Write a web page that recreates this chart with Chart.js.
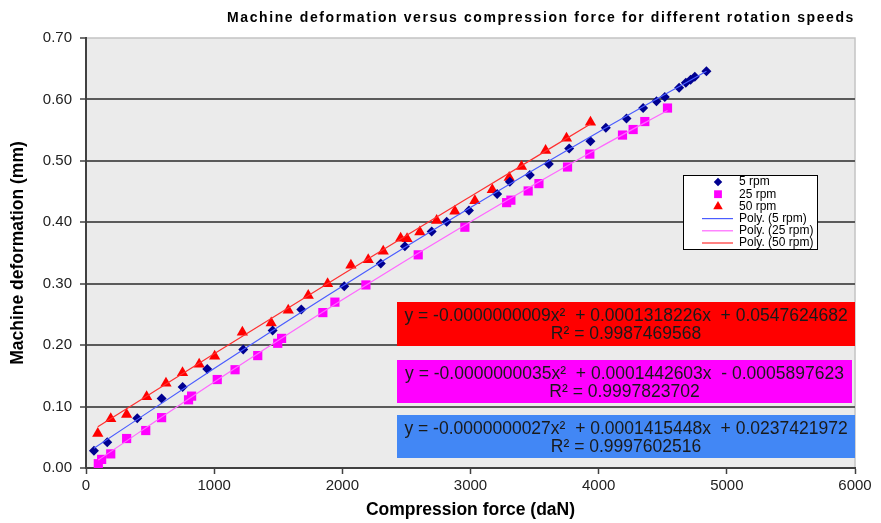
<!DOCTYPE html>
<html>
<head>
<meta charset="utf-8">
<script src="https://cdn.jsdelivr.net/npm/chart.js@4.4.1/dist/chart.umd.min.js"></script>
<style>
    html, body { margin: 0; padding: 0; background: #ffffff; }
    #wrap { position: relative; width: 881px; height: 523px; }
    #title {
        position: absolute; right: 26px; top: 9px;
        font: bold 14px "Liberation Sans", Arial, sans-serif;
        letter-spacing: 1.6px; color: #000; white-space: nowrap;
    }
</style>
</head>
<body>
<div id="wrap">
    <canvas id="chart" width="881" height="523"></canvas>
    <div id="title">Machine deformation versus compression force for different rotation speeds</div>
</div>
<script>
// Measured points (force in daN, deformation in mm)
const force5 = [62, 166, 400, 590, 754, 946, 1227, 1456, 1680, 2015, 2300, 2488, 2697, 2814, 2988, 3208, 3307, 3463, 3611, 3770, 3936, 4056, 4217, 4347, 4451, 4516, 4628, 4680, 4717, 4750, 4841];
const deform5 = [0.028, 0.042, 0.081, 0.113, 0.132, 0.161, 0.193, 0.224, 0.258, 0.296, 0.333, 0.361, 0.385, 0.401, 0.419, 0.446, 0.466, 0.477, 0.495, 0.520, 0.532, 0.554, 0.569, 0.586, 0.597, 0.604, 0.619, 0.627, 0.632, 0.637, 0.646];

const force25 = [96, 122, 193, 317, 466, 590, 800, 824, 1024, 1163, 1340, 1496, 1526, 1848, 1942, 2184, 2592, 2956, 3282, 3315, 3450, 3534, 3757, 3931, 4186, 4269, 4360, 4537];
const deform25 = [0.007, 0.014, 0.023, 0.048, 0.061, 0.082, 0.111, 0.117, 0.144, 0.160, 0.183, 0.203, 0.211, 0.253, 0.270, 0.298, 0.347, 0.392, 0.432, 0.436, 0.451, 0.463, 0.490, 0.511, 0.542, 0.551, 0.564, 0.586];

const force50 = [92, 193, 317, 473, 624, 753, 883, 1004, 1220, 1445, 1578, 1734, 1885, 2067, 2202, 2319, 2455, 2505, 2605, 2736, 2878, 3034, 3170, 3302, 3398, 3586, 3749, 3936];
const deform50 = [0.056, 0.080, 0.087, 0.116, 0.138, 0.155, 0.169, 0.182, 0.221, 0.236, 0.257, 0.281, 0.300, 0.330, 0.339, 0.353, 0.374, 0.373, 0.384, 0.403, 0.418, 0.435, 0.453, 0.473, 0.491, 0.517, 0.537, 0.563];

// Trendline points
const trendForce5 = [62, 1000, 2000, 3000, 4000, 4841];
const trendDeform5 = [0.032, 0.162, 0.296, 0.424, 0.547, 0.646];
const trendForce25 = [96, 1000, 2000, 3000, 4000, 4537];
const trendDeform25 = [0.013, 0.140, 0.274, 0.401, 0.521, 0.582];
const trendForce50 = [92, 1000, 2000, 3000, 3936];
const trendDeform50 = [0.067, 0.186, 0.315, 0.442, 0.560];

// Trendline equation labels
const eqRed = ['y = -0.0000000009x²  + 0.0001318226x  + 0.0547624682', 'R² = 0.9987469568'];
const eqMagenta = ['y = -0.0000000035x²  + 0.0001442603x  - 0.0005897623', 'R² = 0.9997823702'];
const eqBlue = ['y = -0.0000000027x²  + 0.0001415448x  + 0.0237421972', 'R² = 0.9997602516'];

const toPoints = (xs, ys) => xs.map((x, i) => ({ x: x, y: ys[i] }));

const FONT = '"Liberation Sans", Arial, sans-serif';

// grey plot area with light frame
const plotBackground = {
    id: 'plotBackground',
    beforeDraw(chart) {
        const { ctx, chartArea: a } = chart;
        ctx.save();
        ctx.fillStyle = '#ebebeb';
        ctx.fillRect(a.left, a.top, a.right - a.left, a.bottom - a.top);
        ctx.strokeStyle = '#c4c4c4';
        ctx.lineWidth = 1.5;
        ctx.strokeRect(a.left, a.top, a.right - a.left, a.bottom - a.top);
        ctx.restore();
    }
};

// coloured equation boxes
const equationBoxes = {
    id: 'equationBoxes',
    afterDatasetsDraw(chart) {
        const ctx = chart.ctx;
        const boxes = [
            { lines: eqRed, color: '#ff0000', x: 397, y: 302, w: 458, h: 44 },
            { lines: eqMagenta, color: '#ff00ff', x: 397, y: 360, w: 455, h: 43 },
            { lines: eqBlue, color: '#4287f5', x: 397, y: 415, w: 458, h: 43 }
        ];
        ctx.save();
        ctx.font = '17.5px ' + FONT;
        ctx.textAlign = 'center';
        ctx.textBaseline = 'middle';
        boxes.forEach(b => {
            ctx.fillStyle = b.color;
            ctx.fillRect(b.x, b.y, b.w, b.h);
            ctx.fillStyle = '#1a1a1a';
            ctx.fillText(b.lines[0], b.x + b.w / 2, b.y + 14);
            ctx.fillText(b.lines[1], b.x + b.w / 2, b.y + 32);
        });
        ctx.restore();
    }
};

// small boxed legend inside the plot
const legendBox = {
    id: 'legendBox',
    afterDatasetsDraw(chart) {
        const ctx = chart.ctx;
        const x = 683, y = 175, w = 134, h = 74;
        ctx.save();
        ctx.fillStyle = '#ffffff';
        ctx.fillRect(x, y, w, h);
        ctx.strokeStyle = '#000000';
        ctx.lineWidth = 1;
        ctx.strokeRect(x + 0.5, y + 0.5, w, h);
        ctx.font = '12px ' + FONT;
        ctx.textBaseline = 'middle';
        chart.data.datasets.forEach((ds, i) => {
            const cy = y + 7 + i * 12.2;
            if (ds.showLine) {
                ctx.strokeStyle = ds.borderColor;
                ctx.lineWidth = 1.2;
                ctx.beginPath();
                ctx.moveTo(702, cy);
                ctx.lineTo(733, cy);
                ctx.stroke();
            } else {
                ctx.fillStyle = ds.backgroundColor;
                Chart.helpers.drawPoint(ctx, {
                    pointStyle: ds.pointStyle,
                    radius: ds.pointRadius * 0.85,
                    borderWidth: 0,
                    rotation: 0
                }, 718, cy);
            }
            ctx.fillStyle = '#000000';
            ctx.fillText(ds.label, 739, cy);
        });
        ctx.restore();
    }
};

new Chart(document.getElementById('chart'), {
    type: 'scatter',
    data: {
        datasets: [
            {
                label: '5 rpm',
                data: toPoints(force5, deform5),
                pointStyle: 'rectRot',
                pointRadius: 5,
                backgroundColor: '#000090',
                borderColor: '#000090',
                borderWidth: 0,
                showLine: false,
                order: 1
            },
            {
                label: '25 rpm',
                data: toPoints(force25, deform25),
                pointStyle: 'rect',
                pointRadius: 6.5,
                backgroundColor: '#ff00ff',
                borderColor: '#ff00ff',
                borderWidth: 0,
                showLine: false,
                order: 3
            },
            {
                label: '50 rpm',
                data: toPoints(force50, deform50),
                pointStyle: 'triangle',
                pointRadius: 6.5,
                backgroundColor: '#ff0000',
                borderColor: '#ff0000',
                borderWidth: 0,
                showLine: false,
                order: 2
            },
            {
                label: 'Poly. (5 rpm)',
                data: toPoints(trendForce5, trendDeform5),
                showLine: true,
                borderColor: '#4a5cff',
                borderWidth: 1.2,
                pointRadius: 0,
                cubicInterpolationMode: 'monotone',
                order: 0
            },
            {
                label: 'Poly. (25 rpm)',
                data: toPoints(trendForce25, trendDeform25),
                showLine: true,
                borderColor: '#ff66ff',
                borderWidth: 1.2,
                pointRadius: 0,
                cubicInterpolationMode: 'monotone',
                order: 0
            },
            {
                label: 'Poly. (50 rpm)',
                data: toPoints(trendForce50, trendDeform50),
                showLine: true,
                borderColor: '#ff3030',
                borderWidth: 1.2,
                pointRadius: 0,
                cubicInterpolationMode: 'monotone',
                order: 0
            }
        ]
    },
    options: {
        responsive: false,
        animation: false,
        layout: { padding: { top: 38, right: 26, left: 0, bottom: 0 } },
        plugins: {
            legend: { display: false },
            tooltip: { enabled: false }
        },
        scales: {
            x: {
                type: 'linear',
                min: 0,
                max: 6000,
                afterFit: s => { s.height = 55; },
                ticks: {
                    stepSize: 1000,
                    color: '#222222',
                    padding: 3,
                    font: { family: FONT, size: 15 },
                    callback: v => String(v)
                },
                grid: {
                    drawOnChartArea: false,
                    tickLength: 6,
                    tickColor: '#404040',
                    tickWidth: 1.5
                },
                border: { color: '#404040', width: 2 },
                title: {
                    display: true,
                    text: 'Compression force (daN)',
                    color: '#000000',
                    padding: { bottom: 2 },
                    font: { family: FONT, size: 17.5, weight: 'bold' }
                }
            },
            y: {
                min: 0,
                max: 0.7,
                afterFit: s => { s.width = 86; },
                ticks: {
                    stepSize: 0.1,
                    color: '#222222',
                    padding: 8,
                    font: { family: FONT, size: 15 },
                    callback: v => v.toFixed(2)
                },
                grid: {
                    color: c => (c.tick && c.tick.value > 0.69) ? 'rgba(0,0,0,0)' : '#5a5a5a',
                    lineWidth: 2,
                    tickLength: 6,
                    tickColor: '#404040',
                    tickWidth: 1.5
                },
                border: { color: '#404040', width: 2 },
                title: {
                    display: true,
                    text: 'Machine deformation (mm)',
                    color: '#000000',
                    padding: { top: 8 },
                    font: { family: FONT, size: 17.5, weight: 'bold' }
                }
            }
        }
    },
    plugins: [plotBackground, equationBoxes, legendBox]
});
</script>
</body>
</html>
